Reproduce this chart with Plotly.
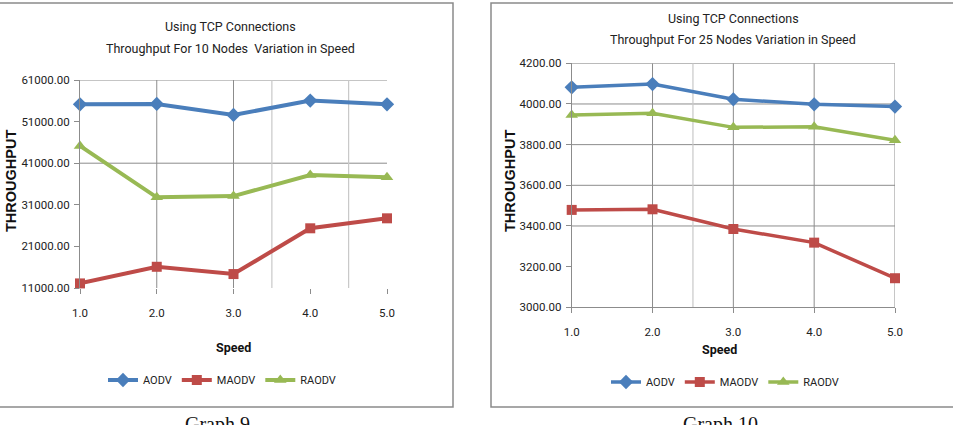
import plotly.graph_objects as go

# ---------------- data ----------------
speed = [1.0, 2.0, 3.0, 4.0, 5.0]
series_names = ["AODV", "MAODV", "RAODV"]

aodv_10 = [55150, 55250, 52600, 56050, 55150]
maodv_10 = [12100, 16100, 14350, 25350, 27750]
raodv_10 = [45150, 32800, 33100, 38150, 37600]

aodv_25 = [4082, 4098, 4023, 3998, 3987]
maodv_25 = [3479, 3482, 3385, 3318, 3143]
raodv_25 = [3946, 3954, 3885, 3888, 3822]

yticks_10 = [11000, 21000, 31000, 41000, 51000, 61000]
yticks_25 = [3000, 3200, 3400, 3600, 3800, 4000, 4200]
xticks = [1.0, 2.0, 3.0, 4.0, 5.0]

title_10 = ["Using TCP Connections", "Throughput For 10 Nodes  Variation in Speed"]
title_25 = ["Using TCP Connections", "Throughput For 25 Nodes Variation in Speed"]
captions = ["Graph 9", "Graph 10"]

# ---------------- style ----------------
W, H = 953, 425
colors = ["#4A7EBB", "#BE4B48", "#98B954"]
symbols = ["diamond", "square", "triangle-up"]
msizes = [11, 10, 11]
NARROW = "Roboto, Liberation Sans, sans-serif"
GRID = "#8c8c8c"
LIGHT = "#c8c8c8"


def px(x):
    return x / W


def py(y):
    return 1 - y / H


fig = go.Figure()

left_data = [aodv_10, maodv_10, raodv_10]
right_data = [aodv_25, maodv_25, raodv_25]

for i, name in enumerate(series_names):
    fig.add_trace(go.Scatter(
        x=speed, y=left_data[i], name=name, mode="lines+markers",
        line=dict(color=colors[i], width=4),
        marker=dict(symbol=symbols[i], size=msizes[i], color=colors[i]),
        xaxis="x", yaxis="y", legend="legend", cliponaxis=False))
for i, name in enumerate(series_names):
    fig.add_trace(go.Scatter(
        x=speed, y=right_data[i], name=name, mode="lines+markers",
        line=dict(color=colors[i], width=3.5),
        marker=dict(symbol=symbols[i], size=msizes[i], color=colors[i]),
        xaxis="x2", yaxis="y2", legend="legend2", cliponaxis=False))

axis_common = dict(showgrid=False, zeroline=False, showline=True, linecolor=GRID,
                   linewidth=1, ticks="outside", ticklen=5, tickcolor=GRID,
                   automargin=False,
                   tickfont=dict(family=NARROW, size=11.5, color="#222"))

fig.update_layout(
    width=W, height=H, margin=dict(l=0, r=0, t=0, b=0, pad=0, autoexpand=False),
    paper_bgcolor="white", plot_bgcolor="rgba(0,0,0,0)",
    xaxis=dict(domain=[px(80), px(387)], range=[1, 5], tickvals=xticks,
               tickformat=".1f", ticklabelstandoff=9, anchor="y",
               **{**axis_common, "showline": False}),
    yaxis=dict(domain=[py(288), py(80)], range=[11000, 61000], tickvals=yticks_10,
               tickformat=".2f", anchor="x", ticklabelstandoff=2, **axis_common),
    xaxis2=dict(domain=[px(571.7), px(895)], range=[1, 5], tickvals=xticks,
                tickformat=".1f", ticklabelstandoff=9, anchor="y2", **axis_common),
    yaxis2=dict(domain=[py(307.3), py(63.3)], range=[3000, 4200], tickvals=yticks_25,
                tickformat=".2f", anchor="x2", ticklabelstandoff=2, **axis_common),
    legend=dict(orientation="h", x=px(222), xanchor="center", y=py(380), yanchor="middle",
                font=dict(family=NARROW, size=11, color="#222"), itemwidth=30,
                bgcolor="rgba(0,0,0,0)", traceorder="normal"),
    legend2=dict(orientation="h", x=px(725), xanchor="center", y=py(382), yanchor="middle",
                 font=dict(family=NARROW, size=11, color="#222"), itemwidth=30,
                 bgcolor="rgba(0,0,0,0)", traceorder="normal"),
    showlegend=True,
)

shapes = []
# borders
shapes.append(dict(type="rect", xref="paper", yref="paper", x0=px(-3), x1=px(453),
                   y0=py(407), y1=py(3), line=dict(color="#8a8a8a", width=1.5),
                   layer="below"))
shapes.append(dict(type="rect", xref="paper", yref="paper", x0=px(491), x1=px(1000),
                   y0=py(407), y1=py(3), line=dict(color="#8a8a8a", width=1.5),
                   layer="below"))

# grid lines left chart
for v in [41000, 61000]:
    shapes.append(dict(type="line", xref="x", yref="y", x0=1, x1=5, y0=v, y1=v,
                       line=dict(color=GRID, width=1), layer="below"))
for v in [2, 3]:
    shapes.append(dict(type="line", xref="x", yref="y", x0=v, x1=v, y0=11000, y1=61000,
                       line=dict(color=GRID, width=1), layer="below"))
for v in [3.5, 4.5]:
    shapes.append(dict(type="line", xref="x", yref="y", x0=v, x1=v, y0=11000, y1=61000,
                       line=dict(color=LIGHT, width=1.2), layer="below"))

# grid lines right chart
for v in [3400, 3600, 3800, 4000, 4200]:
    shapes.append(dict(type="line", xref="x2", yref="y2", x0=1, x1=5, y0=v, y1=v,
                       line=dict(color=GRID, width=1), layer="below"))
for v in [2, 3, 4, 5]:
    shapes.append(dict(type="line", xref="x2", yref="y2", x0=v, x1=v, y0=3000, y1=4200,
                       line=dict(color=GRID, width=1), layer="below"))
for v in [2.5]:
    shapes.append(dict(type="line", xref="x2", yref="y2", x0=v, x1=v, y0=3000, y1=4200,
                       line=dict(color=LIGHT, width=1.2), layer="below"))
fig.update_layout(shapes=shapes)

ann = []
TF = dict(family=NARROW, size=12.5, color="#222")
ann.append(dict(text=title_10[0], x=px(230), y=py(27), xref="paper", yref="paper",
                showarrow=False, font=TF, xanchor="center", yanchor="middle"))
ann.append(dict(text=title_10[1], x=px(230), y=py(49), xref="paper", yref="paper",
                showarrow=False, font=TF, xanchor="center", yanchor="middle"))
ann.append(dict(text=title_25[0], x=px(733), y=py(19), xref="paper", yref="paper",
                showarrow=False, font=TF, xanchor="center", yanchor="middle"))
ann.append(dict(text=title_25[1], x=px(733), y=py(39), xref="paper", yref="paper",
                showarrow=False, font=TF, xanchor="center", yanchor="middle"))
# axis titles
SF = dict(family=NARROW, size=12.5, color="#111")
ann.append(dict(text="<b>Speed</b>", x=px(233), y=py(347), xref="paper", yref="paper",
                showarrow=False, font=SF, xanchor="center", yanchor="middle"))
ann.append(dict(text="<b>Speed</b>", x=px(719), y=py(349), xref="paper", yref="paper",
                showarrow=False, font=SF, xanchor="center", yanchor="middle"))
YF = dict(family="Liberation Sans, Arial, sans-serif", size=14.5, color="#111")
ann.append(dict(text="<b>THROUGHPUT</b>", x=px(11), y=py(181), xref="paper", yref="paper",
                showarrow=False, font=YF, textangle=-90, xanchor="center", yanchor="middle"))
ann.append(dict(text="<b>THROUGHPUT</b>", x=px(510), y=py(181), xref="paper", yref="paper",
                showarrow=False, font=YF, textangle=-90, xanchor="center", yanchor="middle"))
# captions
CF = dict(family="Liberation Serif, Times New Roman, serif", size=20, color="#111")
ann.append(dict(text=captions[0], x=px(217), y=py(411), xref="paper", yref="paper",
                showarrow=False, font=CF, xanchor="center", yanchor="top"))
ann.append(dict(text=captions[1], x=px(720), y=py(411), xref="paper", yref="paper",
                showarrow=False, font=CF, xanchor="center", yanchor="top"))
fig.update_layout(annotations=ann)

fig.write_html("out.html")
